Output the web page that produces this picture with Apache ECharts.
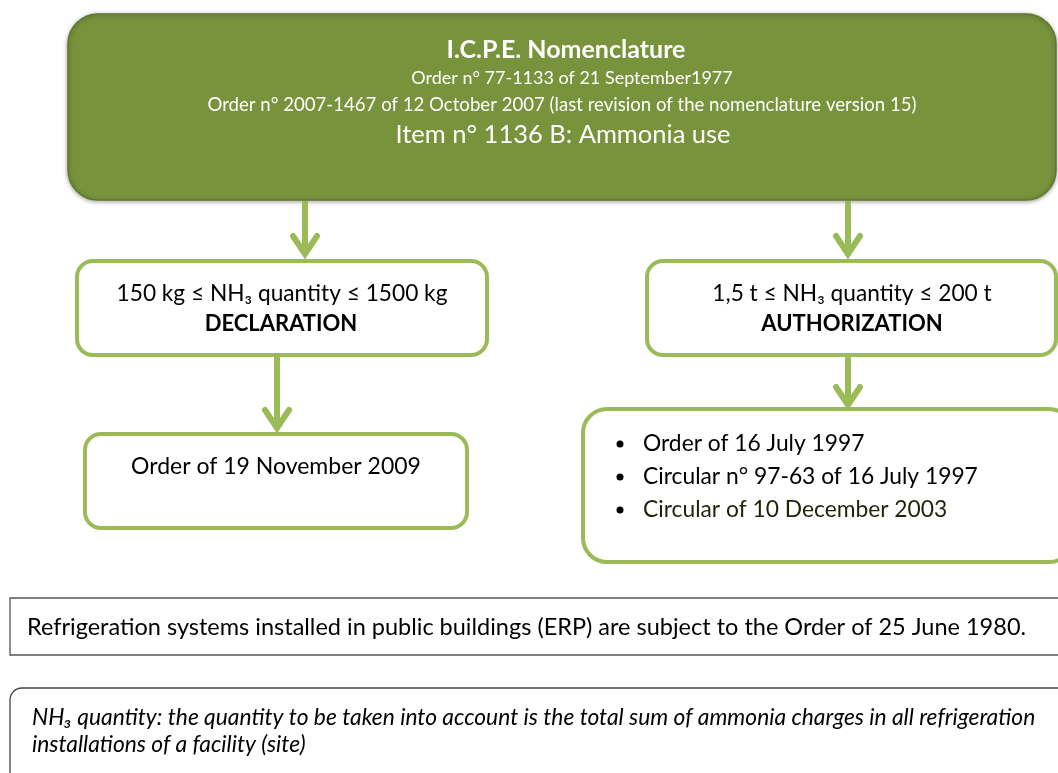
<!DOCTYPE html>
<html>
<head>
<meta charset="utf-8">
<script src="https://cdn.jsdelivr.net/npm/echarts@6/dist/echarts.min.js"></script>
<style>
  html, body { margin: 0; padding: 0; background: #fff; }
  #main { width: 1058px; height: 773px; }
</style>
</head>
<body>
<div id="main"></div>
<script>
// texts of the diagram
var headerLines = [
  'I.C.P.E. Nomenclature',
  'Order n° 77-1133 of 21 September1977',
  'Order n° 2007-1467 of 12 October 2007 (last revision of the nomenclature version 15)',
  'Item n° 1136 B: Ammonia use'
];
var declarationLines = ['150 kg ≤ NH₃ quantity ≤ 1500 kg', 'DECLARATION'];
var authorizationLines = ['1,5 t ≤ NH₃ quantity ≤ 200 t', 'AUTHORIZATION'];
var declarationRefs = ['Order of 19 November 2009'];
var authorizationRefs = [
  'Order of 16 July 1997',
  'Circular n° 97-63 of 16 July 1997',
  'Circular of 10 December 2003'
];
var erpNote = 'Refrigeration systems installed in public buildings (ERP) are subject to the Order of 25 June 1980.';
var quantityNote = [
  'NH₃ quantity: the quantity to be taken into account is the total sum of ammonia charges in all refrigeration',
  'installations of a facility (site)'
];

var FONT = 'Lato, "Open Sans", sans-serif';
var darkGreen = '#77933c';
var lightGreen = '#9bbb59';

function txt(s, x, y, size, opts) {
  opts = opts || {};
  return {
    type: 'text',
    style: {
      text: s, x: x, y: y,
      fill: opts.fill || '#000',
      fontSize: size,
      fontFamily: FONT,
      fontWeight: opts.bold ? 'bold' : 'normal',
      fontStyle: opts.italic ? 'italic' : 'normal',
      textAlign: opts.align || 'center',
      textVerticalAlign: 'middle'
    },
    z: 10
  };
}

function box(x, y, w, h, r) {
  return {
    type: 'rect',
    shape: { x: x, y: y, width: w, height: h, r: r },
    style: { fill: '#fff', stroke: lightGreen, lineWidth: 4 }
  };
}

function arrow(x, y1, y2) {
  return {
    type: 'group',
    children: [
      { type: 'line', shape: { x1: x, y1: y1, x2: x, y2: y2 - 3 },
        style: { stroke: lightGreen, lineWidth: 6 } },
      { type: 'polyline', shape: { points: [[x - 12, y2 - 22], [x, y2 - 4], [x + 12, y2 - 22]] },
        style: { stroke: lightGreen, lineWidth: 6, lineCap: 'round', lineJoin: 'miter', fill: null } }
    ]
  };
}

var elements = [];

// header box
elements.push({
  type: 'rect',
  shape: { x: 68, y: 14, width: 988, height: 186, r: 30 },
  style: { fill: darkGreen, stroke: '#5f7a2c', lineWidth: 1.5,
           shadowBlur: 4, shadowColor: 'rgba(0,0,0,0.35)', shadowOffsetY: 1 }
});
elements.push(txt(headerLines[0], 566, 50, 25, { fill: '#fff', bold: true }));
elements.push(txt(headerLines[1], 572, 78, 18, { fill: '#fff' }));
elements.push(txt(headerLines[2], 562, 105, 18.6, { fill: '#fff' }));
elements.push(txt(headerLines[3], 563, 135, 25.5, { fill: '#fff' }));

// arrows
elements.push(arrow(305, 201, 258));
elements.push(arrow(848, 201, 258));
elements.push(arrow(277, 356, 432));
elements.push(arrow(848, 356, 409));

// declaration branch
elements.push(box(77, 261, 410, 94, 16));
elements.push(txt(declarationLines[0], 282, 294, 22.7));
elements.push(txt(declarationLines[1], 281, 324, 22, { bold: true }));
elements.push(box(85, 434, 382, 94, 16));
declarationRefs.forEach(function (s, i) {
  elements.push(txt(s, 276, 467 + i * 33, 23));
});

// authorization branch
elements.push(box(647, 261, 409, 94, 16));
elements.push(txt(authorizationLines[0], 852, 294, 22.7));
elements.push(txt(authorizationLines[1], 852, 324, 22, { bold: true }));
elements.push(box(583, 409, 490, 153, 24));
authorizationRefs.forEach(function (s, i) {
  var y = 444 + i * 33;
  elements.push({ type: 'circle', shape: { cx: 620, cy: y, r: 3.5 }, style: { fill: '#000' }, z: 10 });
  elements.push(txt(s, 643, y, 22.8, { align: 'left', fill: i === 2 ? '#1c2408' : '#000' }));
});

// notes
elements.push({
  type: 'rect',
  shape: { x: 10, y: 598, width: 1060, height: 57 },
  style: { fill: '#fff', stroke: '#555', lineWidth: 1.3 }
});
elements.push(txt(erpNote, 27, 627, 23.5, { align: 'left' }));
elements.push({
  type: 'rect',
  shape: { x: 10, y: 688, width: 1060, height: 100, r: 12 },
  style: { fill: '#fff', stroke: '#444', lineWidth: 1.3 }
});
quantityNote.forEach(function (s, i) {
  elements.push(txt(s, 32, 718 + i * 27, 22.8, { align: 'left', italic: true }));
});

var chart = echarts.init(document.getElementById('main'));
chart.setOption({
  backgroundColor: '#fff',
  animation: false,
  graphic: { elements: elements }
});
</script>
</body>
</html>
